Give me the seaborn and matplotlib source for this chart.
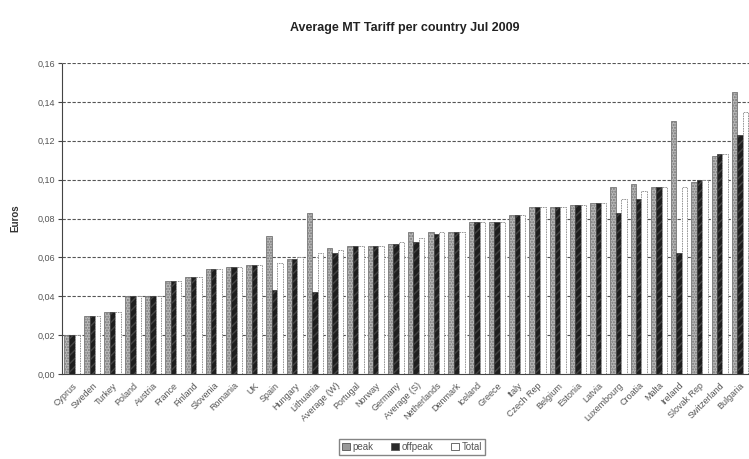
import matplotlib
matplotlib.use("Agg")
import matplotlib.pyplot as plt
import seaborn as sns
import pandas as pd
import numpy as np

countries = ["Cyprus", "Sweden", "Turkey", "Poland", "Austria", "France", "Finland",
             "Slovenia", "Romania", "UK", "Spain", "Hungary", "Lithuania", "Average (W)",
             "Portugal", "Norway", "Germany", "Average (S)", "Netherlands", "Denmark",
             "Iceland", "Greece", "Italy", "Czech Rep", "Belgium", "Estonia", "Latvia",
             "Luxembourg", "Croatia", "Malta", "Ireland", "Slovak Rep", "Switzerland",
             "Bulgaria"]
peak = [0.020, 0.030, 0.032, 0.040, 0.040, 0.048, 0.050, 0.054, 0.055, 0.056,
        0.071, 0.059, 0.083, 0.065, 0.066, 0.066, 0.067, 0.073, 0.073, 0.073,
        0.078, 0.078, 0.082, 0.086, 0.086, 0.087, 0.088, 0.096, 0.0975, 0.096,
        0.130, 0.099, 0.112, 0.145]
offpeak = [0.020, 0.030, 0.032, 0.040, 0.040, 0.048, 0.050, 0.054, 0.055, 0.056,
           0.043, 0.059, 0.042, 0.062, 0.066, 0.066, 0.067, 0.068, 0.072, 0.073,
           0.078, 0.078, 0.082, 0.086, 0.086, 0.087, 0.088, 0.083, 0.090, 0.096,
           0.0625, 0.100, 0.113, 0.123]
total = [0.020, 0.030, 0.032, 0.040, 0.040, 0.048, 0.050, 0.054, 0.055, 0.056,
         0.057, 0.060, 0.0625, 0.064, 0.066, 0.066, 0.068, 0.070, 0.073, 0.073,
         0.078, 0.078, 0.082, 0.086, 0.086, 0.087, 0.088, 0.090, 0.094, 0.096,
         0.096, 0.100, 0.113, 0.135]
series = ["peak", "offpeak", "Total"]
yticks = [0.00, 0.02, 0.04, 0.06, 0.08, 0.10, 0.12, 0.14, 0.16]

df = pd.DataFrame({
    "country": countries * 3,
    "value": peak + offpeak + total,
    "series": [series[0]] * len(countries) + [series[1]] * len(countries) + [series[2]] * len(countries),
})

sns.set_style("white")
plt.rcParams['font.family'] = ['Liberation Sans', 'DejaVu Sans']

fig = plt.figure(figsize=(7.49, 4.59), dpi=100)
ax = fig.add_axes([62/749, 1-374/459, (750-62)/749, (374-63)/459])

palette = {"peak": "#9a9a9a", "offpeak": "#2a2a2a", "Total": "#ffffff"}
sns.barplot(data=df, x="country", y="value", hue="series", palette=palette,
            hue_order=series, order=countries, ax=ax, width=0.8, saturation=1,
            edgecolor="#555555", linewidth=0.6, legend=True)

n = len(countries)
for i, container in enumerate(ax.containers):
    s = series[i]
    for p in container.patches:
        if s == "peak":
            p.set_hatch("......")
            p.set_edgecolor("#777777")
            p.set_facecolor("#b8b8b8")
        elif s == "offpeak":
            p.set_hatch("////")
            p.set_edgecolor("#444444")
            p.set_facecolor("#1e1e1e")
        else:
            p.set_facecolor("white")
            p.set_edgecolor("#888888")
            p.set_linestyle((0, (2, 1)))

ax.set_ylim(0, 0.16)
ax.set_xlim(-0.5, n - 0.5)
ax.set_yticks(yticks)
ax.set_yticklabels([f"{v:.2f}".replace(".", ",") for v in yticks], fontsize=6.5, color="#555555")
ax.set_xticks(range(n))
ax.set_xticklabels(countries, rotation=45, ha="right", rotation_mode="anchor",
                   fontsize=6.5, color="#555555")
ax.tick_params(axis="x", length=0, pad=5)
ax.set_xticks(np.arange(-0.5, n, 1), minor=True)
ax.tick_params(axis="x", which="minor", length=3, direction="out", color="#444444")
ax.tick_params(axis="y", length=3, direction="out", color="#444444", pad=2, left=True)

ax.yaxis.grid(True, linestyle=(0, (3, 1.5)), color="#555555", linewidth=0.8)
ax.set_axisbelow(True)
for side in ["top", "right"]:
    ax.spines[side].set_visible(False)
ax.spines["left"].set_linestyle((0, (1, 1)))
ax.spines["left"].set_color("#444444")
ax.spines["bottom"].set_color("#444444")
ax.spines["bottom"].set_linewidth(0.8)

ax.set_xlabel("")
ax.set_ylabel("Euros", fontsize=7, fontweight="bold", color="#333333", labelpad=12)
fig.text(0.54, 1-28/459, "Average MT Tariff per country Jul 2009", ha="center", va="center",
         fontsize=9, fontweight="bold", color="#222222")

handles, labels = ax.get_legend_handles_labels()
ax.legend(handles, labels, loc="center", bbox_to_anchor=(412/749, 1-447/459),
          bbox_transform=fig.transFigure, ncol=3, fontsize=7, frameon=True,
          fancybox=False, edgecolor="#666666", handlelength=0.8, handleheight=0.8,
          handletextpad=0.3, columnspacing=1.8, borderpad=0.3, labelcolor="#555555")

fig.savefig("out.png", dpi=100)
